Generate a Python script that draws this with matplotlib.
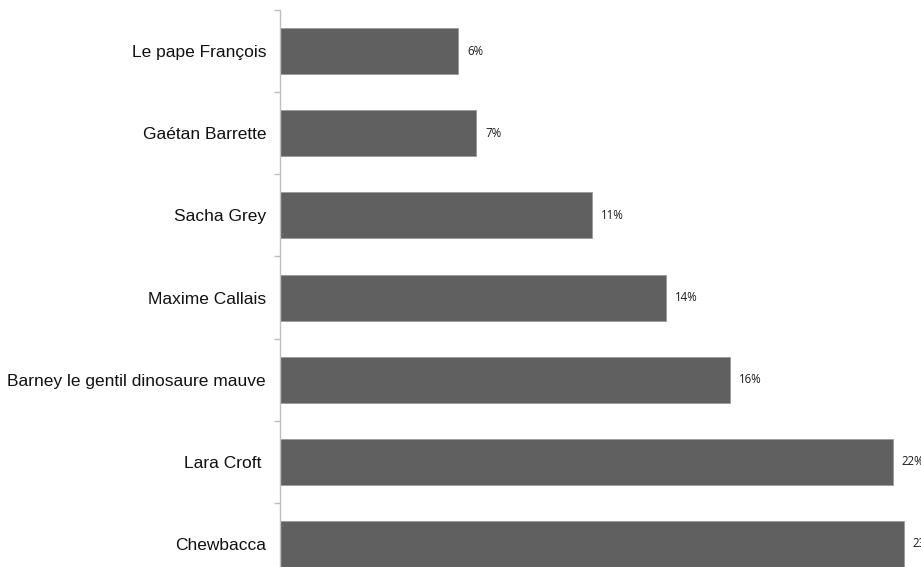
import matplotlib.pyplot as plt
import numpy as np

# données (ordre du haut vers le bas)
noms = ["Le pape François", "Gaétan Barrette", "Sacha Grey", "Maxime Callais",
        "Barney le gentil dinosaure mauve", "Lara Croft ", "Chewbacca"]
valeurs = [6.45, 7.1, 11.3, 14.0, 16.3, 22.2, 22.6]
etiquettes = ["6%", "7%", "11%", "14%", "16%", "22%", "23%"]

fig = plt.figure(figsize=(9.21, 5.67), dpi=100)
# l'axe déborde en bas et à droite, comme dans l'image d'origine
ax = fig.add_axes([280/921, -18/567, 690/921, 575/567])

y = np.arange(len(noms))
ax.barh(y, valeurs, height=0.56, color="#606060", edgecolor="#9a9a9a", linewidth=0.6)
ax.set_ylim(len(noms) - 0.5, -0.5)
ax.set_xlim(0, 25)

for yi, v, t in zip(y, valeurs, etiquettes):
    ax.annotate(t, (v, yi), xytext=(6.5, 0), textcoords="offset points",
                va="center", ha="left", fontsize=8.3, family="Open Sans",
                color="#1a1a1a", annotation_clip=False)

ax.set_yticks(y)
ax.set_yticklabels(noms, fontsize=12.5, family="Liberation Sans", color="#111111")
ax.tick_params(axis="y", which="major", length=0, pad=10)
ax.set_yticks(np.arange(-0.5, len(noms), 1), minor=True)
ax.tick_params(axis="y", which="minor", length=4, color="#bfbfbf", width=1)
ax.set_xticks([])

for s in ["top", "right", "bottom"]:
    ax.spines[s].set_visible(False)
ax.spines["left"].set_color("#bfbfbf")
ax.spines["left"].set_linewidth(1)

fig.savefig("out.png", dpi=100)
